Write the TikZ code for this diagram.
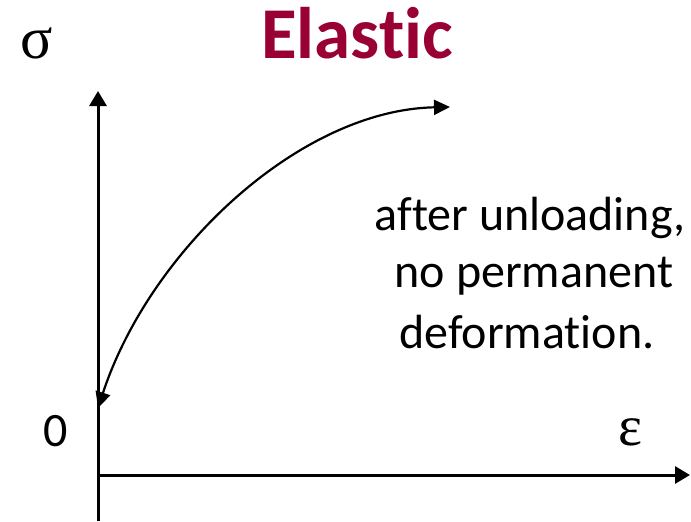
\documentclass[tikz,border=0pt]{standalone}
\usepackage{fontspec}
\setmainfont{Carlito}[Ligatures={NoCommon,NoDiscretionary,NoRequired,NoContextual}]
\newfontfamily\grk{Liberation Serif}
\usetikzlibrary{arrows.meta}
\definecolor{titlered}{HTML}{990033}
\tikzset{
  axis/.style={line width=3pt,-{Triangle[width=17pt,length=15pt]}},
  curve/.style={line width=2.2pt,{Triangle[width=15pt,length=16pt]}-{Triangle[width=15pt,length=16pt]}},
  lbl/.style={inner sep=0pt,anchor=base,font=\fontsize{48}{57}\selectfont},
}
\begin{document}
\begin{tikzpicture}[x=1pt,y=-1pt]
\useasboundingbox (0,0) rectangle (691,522);
\coordinate (vbot) at (98,521);
\coordinate (vtop) at (98,91);
\coordinate (hleft) at (98,475);
\coordinate (hright) at (690,475);
\coordinate (cstart) at (98,408);
\coordinate (cend) at (450,107);
\draw[axis] (vbot) -- (vtop);
\draw[axis] (hleft) -- (hright);
\draw[curve] (cstart) .. controls (150,250) and (300,110) .. (cend);
\node[inner sep=0pt,anchor=base,font=\fontsize{73}{84}\selectfont\bfseries,text=titlered] (title) at (357,58) {Elastic};
\node[inner sep=0pt,anchor=base,font=\grk\fontsize{60}{70}\selectfont] (sigma) at (37,58) {σ};
\node[inner sep=0pt,anchor=base,font=\grk\fontsize{57}{66}\selectfont] (eps) at (630,445) {ε};
\node[lbl] (zero) at (56,446) {0};
\node[lbl] (l1) at (530,230) {after unloading,};
\node[lbl] (l2) at (534,287) {no permanent};
\node[lbl] (l3) at (527,348) {deformation.};
\end{tikzpicture}
\end{document}
